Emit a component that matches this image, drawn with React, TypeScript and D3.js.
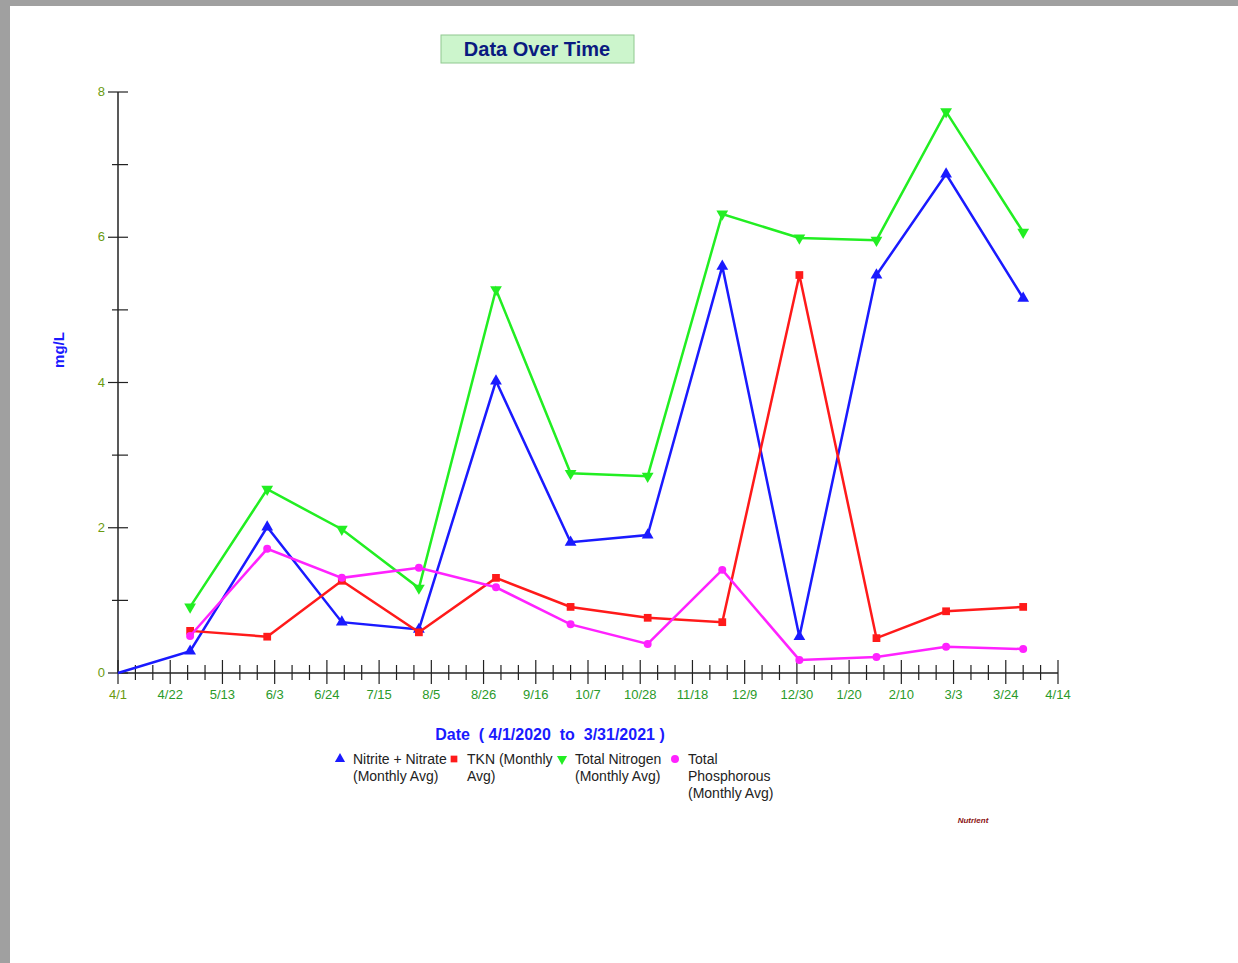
import * as d3 from "d3";

const dates = ["2020-04-30", "2020-05-31", "2020-06-30", "2020-07-31", "2020-08-31", "2020-09-30", "2020-10-31", "2020-11-30", "2020-12-31", "2021-01-31", "2021-02-28", "2021-03-31"];
const nitrite = [0.3, 2.01, 0.7, 0.6, 4.02, 1.8, 1.9, 5.6, 0.5, 5.48, 6.87, 5.16];
const tkn = [0.58, 0.5, 1.27, 0.56, 1.31, 0.91, 0.76, 0.7, 5.48, 0.48, 0.85, 0.91];
const totalN = [0.91, 2.53, 1.98, 1.17, 5.28, 2.75, 2.71, 6.32, 5.99, 5.96, 7.73, 6.07];
const totalP = [0.51, 1.71, 1.31, 1.45, 1.18, 0.67, 0.4, 1.42, 0.18, 0.22, 0.36, 0.33];
const yTicks = [0, 2, 4, 6, 8];

const parse = d3.timeParse("%Y-%m-%d");
const start = parse("2020-04-01")!;
const end = parse("2021-04-14")!;

const x = d3.scaleTime().domain([start, end]).range([118, 1058]);
const y = d3.scaleLinear().domain([0, 8]).range([673, 92]);

const series = [
  { name: ["Nitrite + Nitrate", "(Monthly Avg)"], color: "#1a1aff", shape: d3.symbolTriangle, values: nitrite, lead: true },
  { name: ["TKN (Monthly", "Avg)"], color: "#ff1a1a", shape: d3.symbolSquare, values: tkn, lead: false },
  { name: ["Total Nitrogen", "(Monthly Avg)"], color: "#22ee22", shape: d3.symbolTriangle, values: totalN, lead: false, flip: true },
  { name: ["Total", "Phosphorous", "(Monthly Avg)"], color: "#ff22ff", shape: d3.symbolCircle, values: totalP, lead: false },
];

const legendX = [340, 454, 562, 675];

export default function App() {
  const weekTicks = d3.range(0, 379, 7).map(n => d3.timeDay.offset(start, n));
  const labelTicks = d3.range(0, 379, 21).map(n => d3.timeDay.offset(start, n));
  const line = d3.line<[Date, number]>().x(d => x(d[0])).y(d => y(d[1]));
  return (
    <svg width={1238} height={963} style={{ position: "absolute", left: 0, top: 0, background: "#fff" }} fontFamily="Liberation Sans, Arial, sans-serif">
      <rect x={0} y={0} width={1238} height={6} fill="#a0a0a0" />
      <rect x={0} y={0} width={10} height={963} fill="#a0a0a0" />
      <rect x={441} y={35} width={193} height={28} fill="#ccf5cc" stroke="#90c890" />
      <text x={537} y={56} textAnchor="middle" fontSize={20} fontWeight="bold" fill="#0a1a80">Data Over Time</text>
      <text transform="rotate(-90)" x={-350} y={64} textAnchor="middle" fontSize={15} fontWeight="bold" fill="#1a1aff">mg/L</text>
      {/* y axis */}
      <line x1={118} x2={118} y1={92} y2={673} stroke="#222" strokeWidth={1.5} />
      {d3.range(0, 9).map(v => (
        <line key={v} x1={v % 2 === 0 ? 108 : 112} x2={128} y1={y(v)} y2={y(v)} stroke="#222" strokeWidth={1.2} />
      ))}
      {yTicks.map(v => (
        <text key={v} x={105} y={y(v) + 4} textAnchor="end" fontSize={13} fill="#6a9a10">{v}</text>
      ))}
      {/* x axis */}
      <line x1={118} x2={1058} y1={673} y2={673} stroke="#222" strokeWidth={1.5} />
      {weekTicks.map((d, i) => {
        const major = i % 3 === 0;
        return <line key={i} x1={x(d)} x2={x(d)} y1={major ? 660 : 665} y2={major ? 684 : 680} stroke="#222" strokeWidth={1.2} />;
      })}
      {labelTicks.map((d, i) => (
        <text key={i} x={x(d)} y={699} textAnchor="middle" fontSize={13} fill={i === 0 ? "#6a9a10" : "#2a9a2a"}>{d3.timeFormat("%-m/%-d")(d)}</text>
      ))}
      <text x={550} y={740} textAnchor="middle" fontSize={16} fontWeight="bold" fill="#1a1aff" style={{ whiteSpace: "pre" }}>Date  ( 4/1/2020  to  3/31/2021 )</text>
      {series.map((s, si) => {
        const pts: [Date, number][] = dates.map((d, i) => [parse(d)!, s.values[i]]);
        const path = s.lead ? [[start, 0] as [Date, number], ...pts] : pts;
        return (
          <g key={si}>
            <path d={line(path)!} fill="none" stroke={s.color} strokeWidth={2.5} />
            {pts.map((p, i) => (
              <path key={i} d={d3.symbol(s.shape, s.shape === d3.symbolCircle ? 50 : 60)()!} transform={`translate(${x(p[0])},${y(p[1])})${s.flip ? " rotate(180)" : ""}`} fill={s.color} />
            ))}
          </g>
        );
      })}
      {series.map((s, si) => (
        <g key={si}>
          <path d={d3.symbol(s.shape, s.shape === d3.symbolCircle ? 50 : 45)()!} transform={`translate(${legendX[si]},${759})${s.flip ? " rotate(180)" : ""}`} fill={s.color} />
          {s.name.map((t, k) => (
            <text key={k} x={legendX[si] + 13} y={764 + k * 17} fontSize={14} fill="#222">{t}</text>
          ))}
        </g>
      ))}
      <text x={973} y={823} textAnchor="middle" fontSize={8} fontWeight="bold" fontStyle="italic" fill="#8a1010">Nutrient</text>
    </svg>
  );
}
